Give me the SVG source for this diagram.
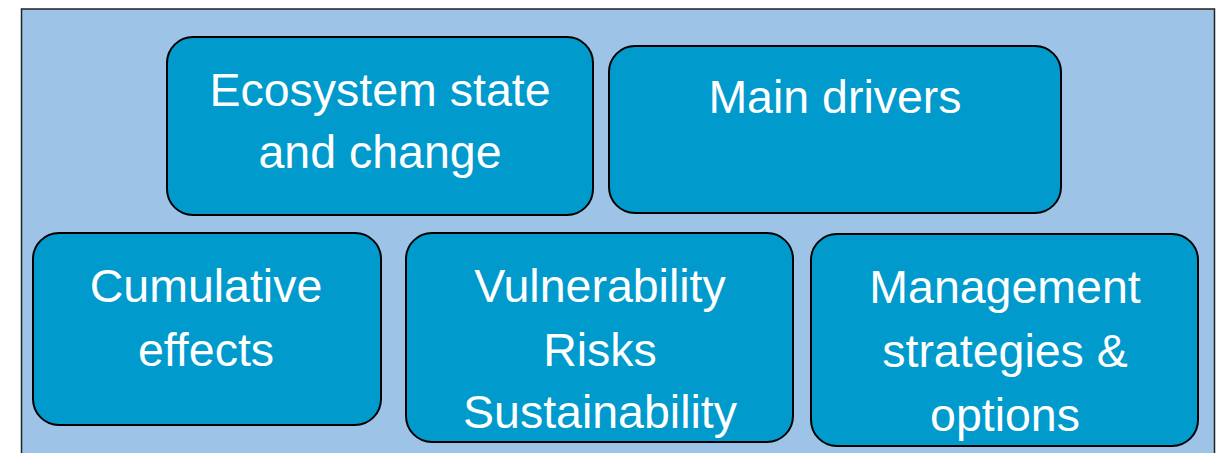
<svg xmlns="http://www.w3.org/2000/svg" width="1216" height="453" viewBox="0 0 1216 453">
<style>
.bg{fill:#9DC3E6;stroke:#222;stroke-width:1.5}
.box{fill:#009ACD;stroke:#000;stroke-width:2}
.t{font-family:"Liberation Sans",Arial,sans-serif;font-size:46.5px;fill:#fff;text-anchor:middle}
</style>
<rect width="1216" height="453" fill="#fff"/>
<rect class="bg" x="21.5" y="9" width="1193" height="460"/>
<g id="n1"><rect class="box" x="167" y="37" width="426" height="178" rx="26"/>
<text class="t" x="380" y="106">Ecosystem state</text><text class="t" x="380" y="168">and change</text></g>
<g id="n2"><rect class="box" x="609" y="46" width="452" height="167" rx="26"/>
<text class="t" x="835" y="113">Main drivers</text></g>
<g id="n3"><rect class="box" x="33" y="233" width="348" height="192" rx="26"/>
<text class="t" x="206" y="302">Cumulative</text><text class="t" x="206" y="366">effects</text></g>
<g id="n4"><rect class="box" x="406" y="233" width="387" height="209" rx="26"/>
<text class="t" x="600" y="302">Vulnerability</text><text class="t" x="600" y="366">Risks</text><text class="t" x="600" y="428">Sustainability</text></g>
<g id="n5"><rect class="box" x="811" y="234" width="387" height="212" rx="26"/>
<text class="t" x="1005" y="303">Management</text><text class="t" x="1005" y="367">strategies &amp;</text><text class="t" x="1005" y="431">options</text></g>
<g id="connectors"></g>
</svg>
